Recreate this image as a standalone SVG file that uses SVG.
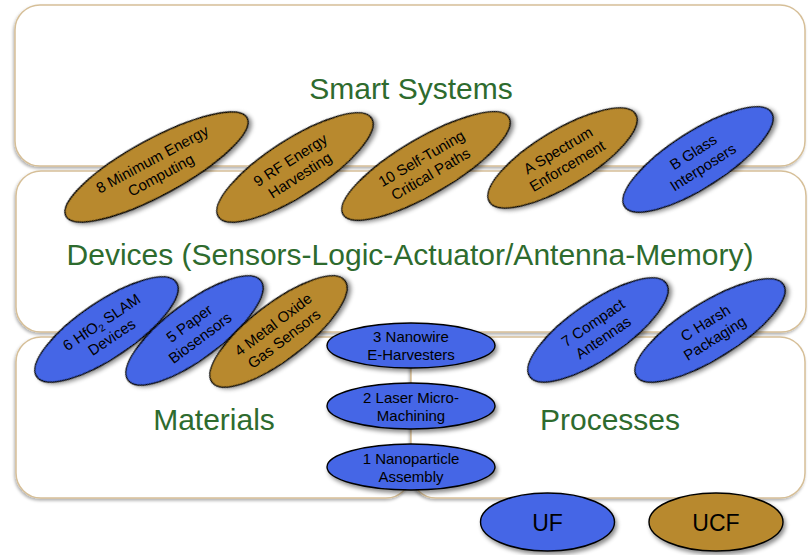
<svg xmlns="http://www.w3.org/2000/svg" width="808" height="555" viewBox="0 0 808 555">
<defs>
<filter id="boxsh" x="-5%" y="-10%" width="110%" height="125%"><feDropShadow dx="-1" dy="2" stdDeviation="1.5" flood-color="#000" flood-opacity="0.3"/></filter>
<filter id="elsh" x="-30%" y="-30%" width="160%" height="170%"><feDropShadow dx="2" dy="3" stdDeviation="2" flood-color="#000" flood-opacity="0.45"/></filter>
</defs>
<style>
.box{fill:#fff;stroke:#D6BF98;stroke-width:1.5;filter:url(#boxsh)}
.ttl{font-family:"Liberation Sans",Arial,sans-serif;font-size:30px;fill:#2E6B2E;text-anchor:middle}
.gold{fill:#B8892E;stroke:#000;stroke-width:1.4;filter:url(#elsh)}
.blue{fill:#4466E6;stroke:#000;stroke-width:1.4;filter:url(#elsh)}
.lb{font-family:"Liberation Sans",Arial,sans-serif;font-size:15px;fill:#000;text-anchor:middle}
.lg{font-family:"Liberation Sans",Arial,sans-serif;font-size:23px;fill:#000;text-anchor:middle}
</style>
<g id="layer-smart"><rect class="box" x="15" y="5" width="790" height="161" rx="25"/><text class="ttl" x="411" y="99">Smart Systems</text></g>
<g id="layer-devices"><rect class="box" x="16" y="171" width="790" height="161" rx="25"/><text class="ttl" x="410" y="265">Devices (Sensors-Logic-Actuator/Antenna-Memory)</text></g>
<g id="layer-materials"><rect class="box" x="16" y="337" width="395" height="161" rx="25"/><text class="ttl" x="214" y="430">Materials</text></g>
<g id="layer-processes"><rect class="box" x="411" y="337" width="394" height="161" rx="25"/><text class="ttl" x="610" y="430">Processes</text></g>
<g id="connectors"/>
<g id="n8" transform="translate(156.5,167) rotate(-28.5)"><ellipse class="gold" rx="103" ry="28"/><text class="lb" y="-3.6">8 Minimum Energy</text><text class="lb" y="14.4">Computing</text></g>
<g id="n9" transform="translate(295,167.5) rotate(-32.7)"><ellipse class="gold" rx="91" ry="28"/><text class="lb" y="-3.6">9 RF Energy</text><text class="lb" y="14.4">Harvesting</text></g>
<g id="n10" transform="translate(426,166) rotate(-30.3)"><ellipse class="gold" rx="96" ry="28"/><text class="lb" y="-3.6">10 Self-Tuning</text><text class="lb" y="14.4">Critical Paths</text></g>
<g id="nA" transform="translate(562.5,158) rotate(-30.9)"><ellipse class="gold" rx="85.2" ry="28"/><text class="lb" y="-3.6">A Spectrum</text><text class="lb" y="14.4">Enforcement</text></g>
<g id="nB" transform="translate(698,159.5) rotate(-32.6)"><ellipse class="blue" rx="87.2" ry="28"/><text class="lb" y="-3.6">B Glass</text><text class="lb" y="14.4">Interposers</text></g>
<g id="n6" transform="translate(106.5,329.5) rotate(-34)"><ellipse class="blue" rx="84.2" ry="28"/><text class="lb" y="-3.6">6 HfO<tspan font-size="10" dy="3">2</tspan><tspan dy="-3"> SLAM</tspan></text><text class="lb" y="14.4">Devices</text></g>
<g id="n5" transform="translate(194.5,330.5) rotate(-36.8)"><ellipse class="blue" rx="82.9" ry="28"/><text class="lb" y="-3.6">5 Paper</text><text class="lb" y="14.4">Biosensors</text></g>
<g id="n4" transform="translate(278.5,331.5) rotate(-37.5)"><ellipse class="gold" rx="83.6" ry="28"/><text class="lb" y="-3.6">4 Metal Oxide</text><text class="lb" y="14.4">Gas Sensors</text></g>
<g id="n7" transform="translate(598,330) rotate(-34.3)"><ellipse class="blue" rx="82.6" ry="28"/><text class="lb" y="-3.6">7 Compact</text><text class="lb" y="14.4">Antennas</text></g>
<g id="nC" transform="translate(710,330.5) rotate(-31.9)"><ellipse class="blue" rx="86.6" ry="28"/><text class="lb" y="-3.6">C Harsh</text><text class="lb" y="14.4">Packaging</text></g>
<g id="n3"><ellipse class="blue" cx="411" cy="345.5" rx="84" ry="22.5"/><text class="lb" x="411" y="342">3 Nanowire</text><text class="lb" x="411" y="360">E-Harvesters</text></g>
<g id="n2"><ellipse class="blue" cx="411" cy="406" rx="84" ry="23"/><text class="lb" x="411" y="402.5">2 Laser Micro-</text><text class="lb" x="411" y="420.5">Machining</text></g>
<g id="n1"><ellipse class="blue" cx="411" cy="467" rx="84" ry="23"/><text class="lb" x="411" y="463.5">1 Nanoparticle</text><text class="lb" x="411" y="481.5">Assembly</text></g>
<g id="legend-uf"><ellipse class="blue" cx="547.5" cy="522" rx="67" ry="29"/><text class="lg" x="547.5" y="530.5">UF</text></g>
<g id="legend-ucf"><ellipse class="gold" cx="716" cy="522" rx="67" ry="29"/><text class="lg" x="716" y="530.5">UCF</text></g>
</svg>
